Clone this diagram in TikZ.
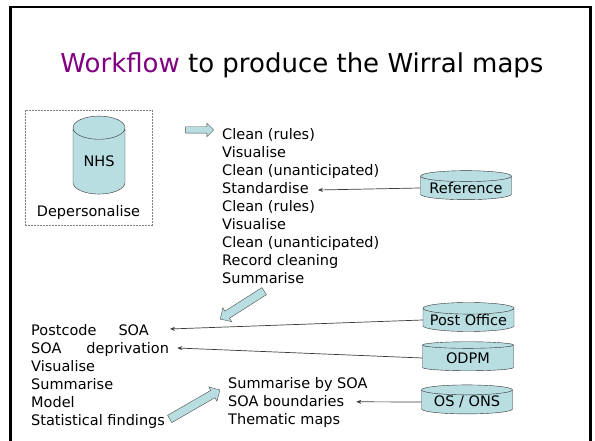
\documentclass[tikz,border=0pt]{standalone}
\usepackage{fontspec}
\setmainfont{DejaVu Sans}
\usepackage{tikz}
\usetikzlibrary{shapes.geometric, shapes.arrows, arrows.meta, positioning}
\definecolor{dbfill}{RGB}{184,222,226}
\definecolor{titlepurple}{RGB}{128,0,128}
\definecolor{linegray}{RGB}{60,60,60}
\tikzstyle{db} = [cylinder, shape border rotate=90, aspect=0.15, draw=black!80, fill=dbfill, minimum width=91pt, minimum height=29pt, inner sep=0pt, font=\fontsize{14.5}{17}\selectfont]
\tikzstyle{listline} = [inner sep=0pt, text height=12.6pt, text depth=5pt, font=\fontsize{14.5}{17.6}\selectfont]
\tikzstyle{fat} = [single arrow, draw=black!70, fill=dbfill, inner sep=3pt, single arrow head extend=3.5pt, minimum height=28pt]
\tikzstyle{feed} = [linegray, line width=0.7pt, -{Stealth[length=5pt,width=4pt]}]

\begin{document}
\begin{tikzpicture}[x=1pt, y=1pt]
  \useasboundingbox (0,0) rectangle (595,441);
  % slide frame
  \draw[line width=2.5pt] (10.5,0) -- (10.5,434) -- (590.5,434) -- (590.5,0);

  % Title
  \node[anchor=base, font=\fontsize{26}{31}\selectfont] (title) at (302,368) {\textcolor{titlepurple}{Workflow} to produce the Wirral maps};

  % NHS data, depersonalised
  \node[draw=gray, dash pattern=on 2pt off 1pt, minimum width=127pt, minimum height=115pt] (src) at (88.5,273.5) {};
  \node[db, aspect=0.75, minimum width=52pt, minimum height=78pt] (nhs) at (99,280) {NHS};
  \node[listline, anchor=base] (depers) at (88.5,224) {Depersonalise};

  % Cleaning steps
  \node[fat] (toclean) at (198,311) {};
  \node[listline, anchor=base west] (s1) at (222,301) {Clean (rules)};
  \node[listline, below right=0pt of s1.south west] (s2) {Visualise};
  \node[listline, below right=0pt of s2.south west] (s3) {Clean (unanticipated)};
  \node[listline, below right=0pt of s3.south west] (s4) {Standardise};
  \node[listline, below right=0pt of s4.south west] (s5) {Clean (rules)};
  \node[listline, below right=0pt of s5.south west] (s6) {Visualise};
  \node[listline, below right=0pt of s6.south west] (s7) {Clean (unanticipated)};
  \node[listline, below right=0pt of s7.south west] (s8) {Record cleaning};
  \node[listline, below right=0pt of s8.south west] (s9) {Summarise};
  \node[db] (ref) at (466,253) {Reference};

  % Linking and analysis
  \node[fat, minimum height=52pt, inner sep=4pt, single arrow head extend=4pt, rotate=212.5] (tolink) at (244,137) {};
  \node[listline, anchor=base west] (a1) at (31,105) {Postcode\hspace{22pt}SOA};
  \node[listline, below right=0pt of a1.south west] (a2) {SOA\hspace{25pt}deprivation};
  \node[listline, below right=0pt of a2.south west] (a3) {Visualise};
  \node[listline, below right=0pt of a3.south west] (a4) {Summarise};
  \node[listline, below right=0pt of a4.south west] (a5) {Model};
  \node[listline, below right=0pt of a5.south west] (a6) {Statistical findings};
  \node[db] (post) at (468.5,121) {Post Office};
  \node[db] (odpm) at (468,83) {ODPM};

  % Mapping
  \node[fat, minimum height=58pt, inner sep=4pt, single arrow head extend=4pt, rotate=30] (tomap) at (193,35.5) {};
  \node[listline, anchor=base west] (m1) at (228,52.2) {Summarise by SOA};
  \node[listline, below right=0pt of m1.south west] (m2) {SOA boundaries};
  \node[listline, below right=0pt of m2.south west] (m3) {Thematic maps};
  \node[db] (ons) at (467,39) {OS / ONS};

  % Feeds from the look-up sources
  \draw[feed] (ref.west) -- ([xshift=9pt,yshift=4pt]s4.base east);
  \draw[feed] (post.west) -- ([xshift=21pt,yshift=7pt]a1.base east);
  \draw[feed] (odpm.west) -- ([xshift=8pt,yshift=6pt]a2.base east);
  \draw[feed] (ons.west) -- ([xshift=12pt,yshift=5pt]m2.base east);
\end{tikzpicture}
\end{document}
